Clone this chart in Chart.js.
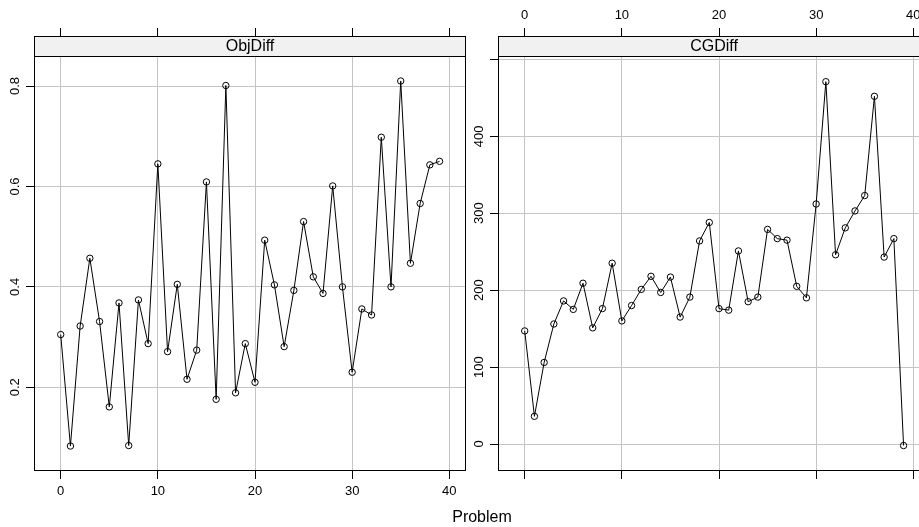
<!DOCTYPE html>
<html>
<head>
<meta charset="utf-8">
<script src="https://cdn.jsdelivr.net/npm/chart.js@4.4.1/dist/chart.umd.min.js"></script>
<style>
  body { margin: 0; width: 919px; height: 527px; overflow: hidden; background: #fff; position: relative; font-family: "Liberation Sans", Arial, sans-serif; }
  canvas { position: absolute; top: 0; }
  #xlab { position: absolute; left: 432px; width: 100px; top: 509px; text-align: center; font-size: 16px; line-height: 16px; color: #000; }
</style>
</head>
<body>
<canvas id="objChart" width="480" height="527" style="left:0"></canvas>
<canvas id="cgChart" width="480" height="527" style="left:460px"></canvas>
<div id="xlab">Problem</div>
<script>
// problem number on the x axis, shared by both panels
const problems = [0, 1, 2, 3, 4, 5, 6, 7, 8, 9, 10, 11, 12, 13, 14, 15, 16, 17, 18, 19,
  20, 21, 22, 23, 24, 25, 26, 27, 28, 29, 30, 31, 32, 33, 34, 35, 36, 37, 38, 39];

const objDiff = [0.305, 0.083, 0.322, 0.457, 0.331, 0.161, 0.368, 0.084, 0.374, 0.287,
  0.645, 0.271, 0.405, 0.216, 0.274, 0.609, 0.176, 0.801, 0.189, 0.287,
  0.210, 0.493, 0.404, 0.281, 0.393, 0.530, 0.420, 0.387, 0.601, 0.400,
  0.230, 0.356, 0.344, 0.698, 0.400, 0.810, 0.447, 0.566, 0.643, 0.650];

const cgDiff = [147, 36, 106, 156, 186, 175, 209, 151, 176, 235,
  160, 180, 201, 218, 197, 217, 165, 191, 264, 288,
  176, 174, 251, 185, 191, 279, 267, 265, 205, 190,
  312, 471, 246, 281, 303, 323, 452, 243, 267, -2];

const xTicks = [0, 10, 20, 30, 40];
const objTicks = [0.2, 0.4, 0.6, 0.8];
const objTickLabels = ["0.2", "0.4", "0.6", "0.8"];
const cgTicks = [0, 100, 200, 300, 400, 500];
const cgTickLabels = ["0", "100", "200", "300", "400", ""];

const FONT = "Liberation Sans";
const GRID = "#c4c4c4";

// strip with the panel name plus the box round the panel
const stripPlugin = {
  id: "strip",
  afterDatasetsDraw(chart, args, opts) {
    const { ctx, chartArea: a } = chart;
    ctx.save();
    ctx.fillStyle = "#f1f1f1";
    ctx.fillRect(a.left, a.top, a.right - a.left, 20);
    ctx.strokeStyle = "#000";
    ctx.lineWidth = 1;
    ctx.strokeRect(a.left + 0.5, a.top + 0.5, a.right - a.left - 1, 20);
    ctx.strokeRect(a.left + 0.5, a.top + 0.5, a.right - a.left - 1, a.bottom - a.top - 1);
    ctx.fillStyle = "#000";
    ctx.font = "16px '" + FONT + "'";
    ctx.textAlign = "center";
    ctx.textBaseline = "alphabetic";
    ctx.fillText(opts.text, (a.left + a.right) / 2, a.top + 15);
    ctx.restore();
  },
};

function setTicks(values) {
  return (scale) => {
    scale.ticks = values.map((v) => ({ value: v }));
  };
}

function makeConfig(p) {
  return {
    type: "line",
    data: {
      datasets: [
        {
          data: problems.map((x, i) => ({ x: x, y: p.values[i] })),
          borderColor: "#000",
          borderWidth: 1,
          tension: 0,
          pointRadius: 3.2,
          pointBorderWidth: 1,
          pointBorderColor: "#000",
          pointBackgroundColor: "rgba(0,0,0,0)",
        },
      ],
    },
    options: {
      responsive: false,
      animation: false,
      events: [],
      layout: { padding: { left: 0, top: 0, bottom: 0, right: p.rightPad } },
      plugins: { legend: { display: false }, tooltip: { enabled: false }, strip: { text: p.title } },
      scales: {
        x: {
          type: "linear",
          position: "bottom",
          min: -2.75,
          max: 41.72,
          afterBuildTicks: setTicks(xTicks),
          afterFit: (s) => { s.height = 56; },
          grid: { color: GRID, tickColor: "#000", tickLength: 8 },
          border: { display: false },
          ticks: { display: p.bottomLabels, padding: 5, color: "#000", font: { family: FONT, size: 13 } },
        },
        xTop: {
          type: "linear",
          position: "top",
          min: -2.75,
          max: 41.72,
          afterBuildTicks: setTicks(xTicks),
          afterFit: (s) => { s.height = 36; },
          grid: { drawOnChartArea: false, tickColor: "#000", tickLength: 8 },
          border: { display: false },
          ticks: { display: p.topLabels, padding: 5, color: "#000", font: { family: FONT, size: 13 } },
        },
        y: {
          type: "linear",
          position: "left",
          min: p.yMin,
          max: p.yMax,
          afterBuildTicks: setTicks(p.yTicks),
          afterFit: (s) => { s.width = p.yWidth; },
          grid: { color: GRID, tickColor: "#000", tickLength: 8 },
          border: { display: false },
          ticks: {
            color: "#000",
            font: { family: FONT, size: 13 },
            minRotation: 90,
            maxRotation: 90,
            crossAlign: "center",
            padding: p.yPad,
            callback: (v) => p.yLabels[p.yTicks.indexOf(v)],
          },
        },
      },
    },
    plugins: [stripPlugin],
  };
}

new Chart(document.getElementById("objChart"), makeConfig({
  title: "ObjDiff",
  values: objDiff,
  yMin: 0.0333,
  yMax: 0.8996,
  yTicks: objTicks,
  yLabels: objTickLabels,
  yWidth: 34,
  yPad: 2,
  rightPad: 14,
  bottomLabels: true,
  topLabels: false,
}));

new Chart(document.getElementById("cgChart"), makeConfig({
  title: "CGDiff",
  values: cgDiff,
  yMin: -35.1,
  yMax: 530.4,
  yTicks: cgTicks,
  yLabels: cgTickLabels,
  yWidth: 38,
  yPad: 0,
  rightPad: 10,
  bottomLabels: false,
  topLabels: true,
}));
</script>
</body>
</html>
